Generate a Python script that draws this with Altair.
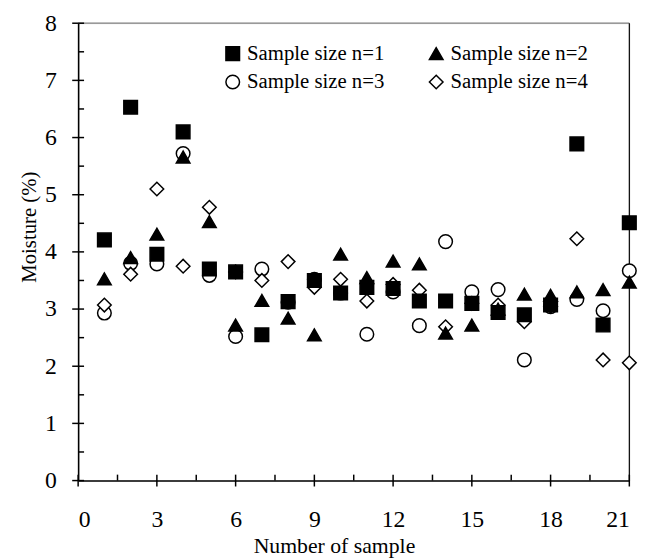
import altair as alt
import pandas as pd

# ---- data ----
samples = list(range(1, 22))
series_names = ["Sample size n=1", "Sample size n=2", "Sample size n=3", "Sample size n=4"]
n1 = [4.21, 6.53, 3.96, 6.10, 3.70, 3.65, 2.55, 3.13, 3.50, 3.28, 3.38, 3.36, 3.14, 3.14, 3.10, 2.94, 2.90, 3.07, 5.89, 2.72, 4.51]
n2 = [3.53, 3.90, 4.31, 5.66, 4.53, 2.72, 3.15, 2.84, 2.55, 3.96, 3.55, 3.84, 3.79, 2.58, 2.72, 3.00, 3.26, 3.24, 3.30, 3.34, 3.47]
n3 = [2.93, 3.80, 3.79, 5.72, 3.59, 2.52, 3.70, 3.12, 3.52, 3.28, 2.56, 3.30, 2.71, 4.18, 3.30, 3.34, 2.11, 3.04, 3.17, 2.97, 3.67]
n4 = [3.07, 3.61, 5.10, 3.75, 4.78, 3.65, 3.50, 3.83, 3.38, 3.52, 3.14, 3.43, 3.33, 2.69, 3.10, 3.07, 2.78, 3.05, 4.23, 2.11, 2.06]

x_major = [0, 3, 6, 9, 12, 15, 18, 21]
x_minor = [1.5, 4.5, 7.5, 10.5, 13.5, 16.5, 19.5]
y_major = [0, 1, 2, 3, 4, 5, 6, 7, 8]
y_minor = [0.5, 1.5, 2.5, 3.5, 4.5, 5.5, 6.5, 7.5]

# drawing order: circles, diamonds, triangles, squares on top
z_order = {"Sample size n=3": 0, "Sample size n=4": 1, "Sample size n=2": 2, "Sample size n=1": 3}

rows = []
for name, vals in zip(series_names, [n1, n2, n3, n4]):
    for s, v in zip(samples, vals):
        rows.append({"x": s, "y": v, "series": name, "z": z_order[name]})
df = pd.DataFrame(rows)

FONT = "Liberation Serif"
XS = alt.Scale(domain=[0, 21], nice=False, zero=False)
YS = alt.Scale(domain=[0, 8], nice=False, zero=False)

x_axis = alt.Axis(values=x_major, ticks=False, grid=False, domainColor="black", domainWidth=1.6,
                  labelFont=FONT, labelFontSize=24, labelColor="black", labelPadding=28,
                  titleFont=FONT, titleFontSize=22, titleFontWeight="normal", titleColor="black",
                  titlePadding=4, titleX=259)
y_axis = alt.Axis(values=y_major, ticks=False, grid=False, domainColor="black", domainWidth=1.6,
                  labelFont=FONT, labelFontSize=24, labelColor="black", labelPadding=22,
                  titleFont=FONT, titleFontSize=21, titleFontWeight="normal", titleColor="black",
                  titlePadding=5, titleY=206)

def X(field="x"):
    return alt.X(f"{field}:Q", scale=XS, axis=x_axis, title="Number of sample")

def Y(field="y"):
    return alt.Y(f"{field}:Q", scale=YS, axis=y_axis, title="Moisture (%)")

legend = alt.Legend(title=None, orient="none", legendX=146, legendY=20, columns=2,
                    direction="horizontal",
                    columnPadding=42, rowPadding=7, labelFont=FONT, labelFontSize=21,
                    labelColor="black", symbolStrokeColor="black",
                    symbolStrokeWidth=1.5, labelOffset=4, padding=0)

points = alt.Chart(df).mark_point(filled=False, opacity=1).encode(
    x=X(), y=Y(),
    shape=alt.Shape("series:N", scale=alt.Scale(domain=series_names,
                    range=["square", "triangle-up", "circle", "diamond"]), legend=legend),
    fill=alt.Fill("series:N", scale=alt.Scale(domain=series_names,
                  range=["black", "black", "white", "white"]), legend=legend),
    stroke=alt.Stroke("series:N", scale=alt.Scale(domain=series_names,
                      range=["black", "black", "black", "black"]), legend=legend),
    size=alt.Size("series:N", scale=alt.Scale(domain=series_names, range=[190, 190, 135, 130]),
                  legend=legend),
    strokeWidth=alt.value(1.5),
    order=alt.Order("z:Q"),
)

xmaj = alt.Chart(pd.DataFrame({"x": x_major, "y": [0] * len(x_major)})).mark_tick(
    orient="vertical", size=12, thickness=1.5, color="black", opacity=1).encode(x=X(), y=Y())
xmin = alt.Chart(pd.DataFrame({"x": x_minor, "y": [0] * len(x_minor)})).mark_tick(
    orient="vertical", size=6, thickness=1.5, color="black", opacity=1, yOffset=-3).encode(x=X(), y=Y())
ymaj = alt.Chart(pd.DataFrame({"x": [0] * len(y_major), "y": y_major})).mark_tick(
    orient="horizontal", size=12, thickness=1.5, color="black", opacity=1).encode(x=X(), y=Y())
ymin = alt.Chart(pd.DataFrame({"x": [0] * len(y_minor), "y": y_minor})).mark_tick(
    orient="horizontal", size=6, thickness=1.5, color="black", opacity=1, xOffset=3).encode(x=X(), y=Y())

top_border = alt.Chart(pd.DataFrame({"x": [0], "x2": [21], "y": [8]})).mark_rule(
    color="#808080", strokeWidth=1.2).encode(x=X(), x2="x2:Q", y=Y())
right_border = alt.Chart(pd.DataFrame({"x": [21], "y": [0], "y2": [8]})).mark_rule(
    color="black", strokeWidth=1.2).encode(x=X(), y=Y(), y2="y2:Q")

chart = alt.layer(top_border, right_border, xmaj, xmin, ymaj, ymin, points).properties(
    width=558, height=463,
    autosize=alt.AutoSizeParams(type="none"),
    padding={"left": 71, "top": 12, "right": 27, "bottom": 76},
).configure_view(stroke=None).configure(background="white")

chart.save("out.html", embed_options={"renderer": "svg", "actions": False})
